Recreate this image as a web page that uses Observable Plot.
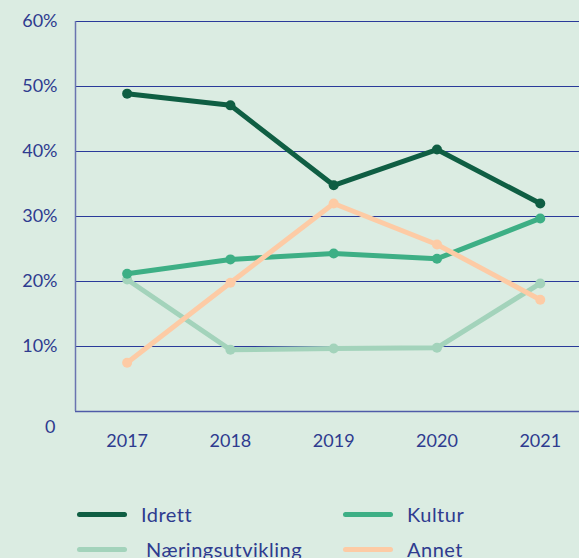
<!DOCTYPE html>
<html>
<head>
<meta charset="utf-8">
<script src="https://cdn.jsdelivr.net/npm/d3@7"></script>
<script src="https://cdn.jsdelivr.net/npm/@observablehq/plot@0.6"></script>
<style>
  html, body { margin: 0; padding: 0; background: #dbece2; }
  body { width: 579px; height: 558px; overflow: hidden; font-family: "Lato", "Open Sans", sans-serif; }
  #legend { position: relative; height: 78px; }
  .item { position: absolute; display: flex; align-items: center; color: #2e3b8f; font-size: 20px; letter-spacing: 0.5px; white-space: nowrap; }
  .sw { width: 50px; height: 5px; border-radius: 3px; margin-right: 14px; }
</style>
</head>
<body>
<div id="chart"></div>
<div id="legend"></div>
<script>
const years = [2017, 2018, 2019, 2020, 2021];
const idrett = [48.9, 47.1, 34.8, 40.3, 32.0];
const kultur = [21.2, 23.4, 24.3, 23.5, 29.7];
const naering = [20.3, 9.5, 9.7, 9.8, 19.7];
const annet = [7.5, 19.8, 32.0, 25.7, 17.2];
const seriesNames = ["Næringsutvikling", "Kultur", "Annet", "Idrett"];
const seriesValues = [naering, kultur, annet, idrett];
const colors = {"Idrett": "#0f5e43", "Kultur": "#3daf85", "Næringsutvikling": "#a3d3bb", "Annet": "#fdcba5"};
const yTicks = [10, 20, 30, 40, 50, 60];

const data = [];
seriesNames.forEach((name, i) => {
  years.forEach((yr, j) => data.push({series: name, year: yr, value: seriesValues[i][j]}));
});

const ink = "#2e3b8f";
const chart = Plot.plot({
  width: 579,
  height: 480,
  marginLeft: 75,
  marginRight: 0,
  marginTop: 21,
  marginBottom: 69,
  style: {background: "#dbece2", fontFamily: "Lato, 'Open Sans', sans-serif", fontSize: "18px", color: ink},
  x: {domain: [2016.5, 2021.38], axis: null},
  y: {domain: [0, 60], axis: null},
  marks: [
    Plot.ruleY(yTicks, {stroke: "#2a3a9a", strokeWidth: 1}),
    Plot.ruleY([0], {stroke: "#4f5ba8", strokeWidth: 1.5}),
    Plot.ruleX([2016.5], {y1: 0, y2: 60, stroke: "#6a74b0", strokeWidth: 1.5}),
    Plot.text(yTicks, {x: 2016.5, y: d => d, text: d => d + "%", textAnchor: "end", dx: -18, fill: ink, fontSize: 18}),
    Plot.text([0], {x: 2016.5, y: d => d, text: d => "0", textAnchor: "end", dx: -20, dy: 16, fill: ink, fontSize: 18}),
    Plot.text(years, {x: d => d, y: 0, text: d => String(d), dy: 30, fill: ink, fontSize: 18}),
    ...seriesNames.map(name => Plot.line(data.filter(d => d.series === name), {x: "year", y: "value", stroke: colors[name], strokeWidth: 5, strokeLinejoin: "round", strokeLinecap: "round"})),
    ...seriesNames.map(name => Plot.dot(data.filter(d => d.series === name), {x: "year", y: "value", fill: colors[name], r: 5})),
  ]
});
document.getElementById("chart").appendChild(chart);

const legendItems = [
  {name: "Idrett", left: 77, top: 34, textOffset: 0},
  {name: "Kultur", left: 343, top: 34, textOffset: 0},
  {name: "Næringsutvikling", left: 77, top: 69, textOffset: 5},
  {name: "Annet", left: 343, top: 69, textOffset: 0}
];
const legend = document.getElementById("legend");
legendItems.forEach(it => {
  const el = document.createElement("div");
  el.className = "item";
  el.style.left = it.left + "px";
  el.style.top = (it.top - 12) + "px";
  el.style.height = "24px";
  const sw = document.createElement("div");
  sw.className = "sw";
  sw.style.background = colors[it.name];
  sw.style.marginRight = (14 + it.textOffset) + "px";
  const tx = document.createElement("span");
  tx.textContent = it.name;
  el.appendChild(sw);
  el.appendChild(tx);
  legend.appendChild(el);
});
</script>
</body>
</html>
